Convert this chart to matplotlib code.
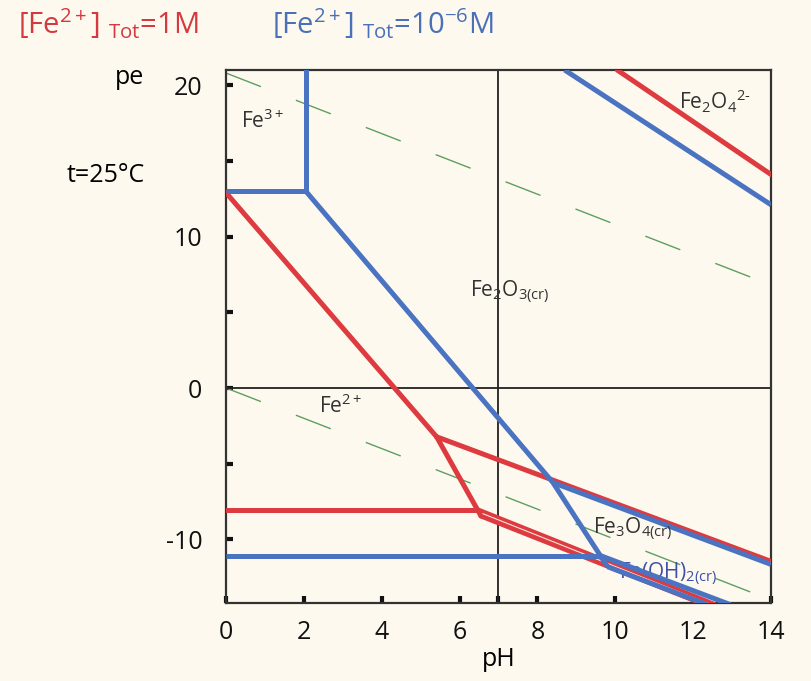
import numpy as np
import matplotlib.pyplot as plt

plt.rcParams['font.family'] = ['Open Sans', 'DejaVu Sans']
plt.rcParams['mathtext.fontset'] = 'custom'
plt.rcParams['mathtext.rm'] = 'Open Sans'
plt.rcParams['mathtext.it'] = 'Open Sans'
plt.rcParams['axes.unicode_minus'] = False

# ---- data (pH, pe) ----
# [Fe2+]tot = 1e-6 M (blue)
blue_fe3_ph = [0, 2.05]
blue_fe3_pe = [13.0, 13.0]
blue_vert_ph = [2.05, 2.05]
blue_vert_pe = [21.5, 13.0]
blue_hem_ph = [2.05, 8.4, 9.8]
blue_hem_pe = [13.0, -6.25, -11.8]
blue_mag_ph = [8.4, 14.0]
blue_mag_pe = [-6.25, -11.65]
blue_fe_ph = [0, 9.6]
blue_fe_pe = [-11.1, -11.1]
blue_oh1_ph = [9.6, 12.95]
blue_oh1_pe = [-11.05, -14.3]
blue_oh2_ph = [9.8, 12.35]
blue_oh2_pe = [-11.8, -14.3]
blue_top_ph = [8.7, 14.0]
blue_top_pe = [21.0, 12.1]

# [Fe2+]tot = 1 M (red)
red_hem_ph = [0, 5.41]
red_hem_pe = [12.9, -3.22]
red_steep_ph = [5.41, 6.55]
red_steep_pe = [-3.22, -8.45]
red_mag_ph = [5.41, 14.0]
red_mag_pe = [-3.22, -11.45]
red_fe_ph = [0, 6.47]
red_fe_pe = [-8.05, -8.05]
red_oh1_ph = [6.47, 12.55]
red_oh1_pe = [-8.05, -14.3]
red_oh2_ph = [6.55, 12.3]
red_oh2_pe = [-8.45, -14.3]
red_top_ph = [10.05, 14.0]
red_top_pe = [21.0, 14.1]

# water stability
water_ph = [0, 14]
water_o2_pe = [20.8, 6.8]
water_h2_pe = [0, -14.0]

labels = [r'Fe$^{3+}$', r'Fe$^{2+}$', r'Fe$_2$O$_{3\mathrm{(cr)}}$',
          r'Fe$_2$O$_4$$^{2\text{-}}$', r'Fe$_3$O$_{4\mathrm{(cr)}}$']
label_ph = [0.95, 2.95, 7.3, 12.55, 10.45]
label_pe = [17.6, -1.2, 6.3, 18.9, -9.3]

xticks = [0, 2, 4, 6, 8, 10, 12, 14]
yticks = [20, 10, 0, -10]

RED = '#DD3B3F'
BLUE = '#4A73C2'
GREEN = '#5E9E62'
BG = '#FEF9EE'

fig = plt.figure(figsize=(8.12, 6.81), dpi=100, facecolor=BG)
ax = fig.add_axes([0.2783, 0.1145, 0.6712, 0.7827], facecolor=BG)

# water lines
for pe in (water_o2_pe, water_h2_pe):
    ax.plot(water_ph, pe, color=GREEN, lw=1.0, dashes=(27, 27), zorder=2)

ax.axhline(0, color='#222222', lw=1.3, zorder=2)
ax.axvline(7, color='#222222', lw=1.3, zorder=2)

ax.text(11.35, -12.3, r'Fe(OH)$_{2\mathrm{(cr)}}$', color='#3E4FA6', fontsize=15,
        ha='center', va='center', zorder=2)

lw = 3.6
red_lines = [(red_hem_ph, red_hem_pe), (red_steep_ph, red_steep_pe),
             (red_mag_ph, red_mag_pe), (red_fe_ph, red_fe_pe),
             (red_oh1_ph, red_oh1_pe), (red_oh2_ph, red_oh2_pe),
             (red_top_ph, red_top_pe)]
for x, y in red_lines:
    ax.plot(x, y, color=RED, lw=lw, solid_capstyle='round', zorder=3)
# thin light gap between the two close red lines
ax.plot([6.6, 12.45], [-8.3, -14.3], color='#FBE3DC', lw=0.8, zorder=3)

blue_lines = [(blue_fe3_ph, blue_fe3_pe), (blue_vert_ph, blue_vert_pe),
              (blue_hem_ph, blue_hem_pe), (blue_mag_ph, blue_mag_pe),
              (blue_fe_ph, blue_fe_pe), (blue_oh1_ph, blue_oh1_pe),
              (blue_oh2_ph, blue_oh2_pe), (blue_top_ph, blue_top_pe)]
for x, y in blue_lines:
    ax.plot(x, y, color=BLUE, lw=lw, solid_capstyle='butt', zorder=4)

for s, x, y in zip(labels, label_ph, label_pe):
    ax.text(x, y, s, color='#333333', fontsize=15, ha='center', va='center', zorder=5)

ax.set_xlim(0, 14)
ax.set_ylim(-14.2, 21.0)
ax.set_xticks(xticks)
ax.set_yticks(yticks)
ax.set_xticks([7], minor=True)
ax.set_yticks([15, 5, -5], minor=True)
ax.tick_params(which='both', direction='in', length=5, width=3, color='#111111')
ax.tick_params(which='major', labelsize=18, labelcolor='#111111', pad=12)
ax.tick_params(axis='y', which='major', pad=17)
for sp in ax.spines.values():
    sp.set_color('#333333')
    sp.set_linewidth(1.6)

ax.set_xlabel('pH', fontsize=18, labelpad=2)
fig.text(0.16, 0.886, 'pe', fontsize=18, ha='center', va='center')
fig.text(0.13, 0.743, 't=25°C', fontsize=18, ha='center', va='center')

fig.text(0.022, 0.965, r'[Fe$^{2+}$] $_{\mathrm{Tot}}$=1M', color='#D6383F',
         fontsize=21, ha='left', va='center')
fig.text(0.335, 0.965, r'[Fe$^{2+}$] $_{\mathrm{Tot}}$=10$^{-6}$M', color='#4A70B8',
         fontsize=21, ha='left', va='center')

fig.savefig('out.png', dpi=100, facecolor=BG)
